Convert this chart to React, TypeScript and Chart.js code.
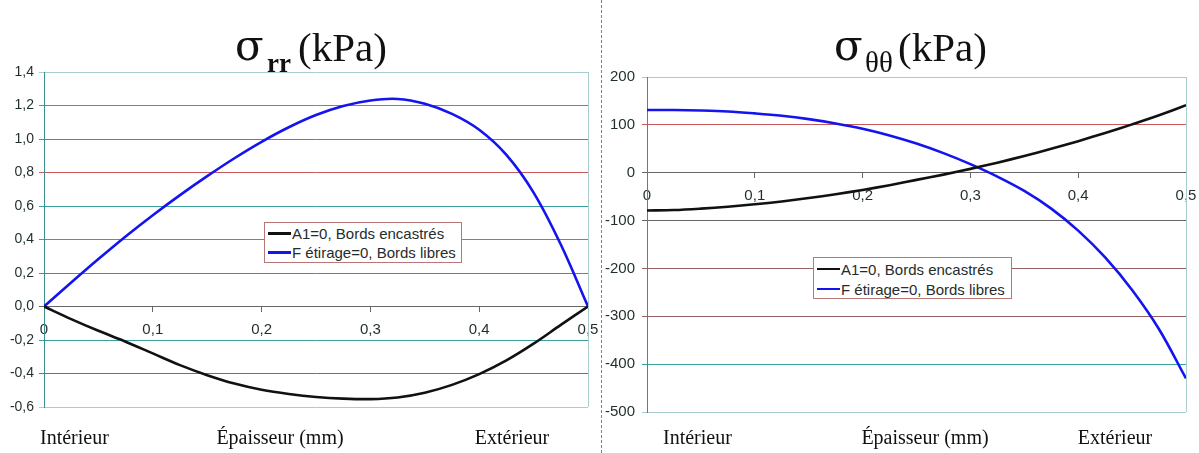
import React, { useEffect, useRef } from 'react';
import { Chart, registerables } from 'chart.js';

Chart.register(...registerables);

// ---------- data ----------
const thickness = [0, 0.025, 0.05, 0.075, 0.1, 0.125, 0.15, 0.175, 0.2, 0.225, 0.25, 0.275, 0.3, 0.325, 0.35, 0.375, 0.4, 0.425, 0.45, 0.475, 0.5];

const rrEncastres = [0, -0.075, -0.145, -0.21, -0.28, -0.35, -0.41, -0.46, -0.497, -0.522, -0.54, -0.55, -0.553, -0.543, -0.515, -0.468, -0.404, -0.322, -0.222, -0.11, 0];
const rrLibres = [0, 0.143, 0.283, 0.418, 0.545, 0.665, 0.778, 0.885, 0.983, 1.07, 1.143, 1.197, 1.23, 1.239, 1.21, 1.15, 1.055, 0.905, 0.68, 0.37, 0];

const ttEncastres = [-79, -78, -75, -71, -66, -60, -53, -45, -36, -26, -15, -4, 8, 21, 35, 50, 66, 83, 101, 120, 141];
const ttLibres = [131, 131, 130, 128, 124, 119, 112, 103, 92, 78, 61, 41, 18, -8, -38, -75, -121, -177, -245, -327, -430];

const seriesLabels = ['A1=0, Bords encastrés', 'F étirage=0, Bords libres'];

const rrTicks = [1.4, 1.2, 1.0, 0.8, 0.6, 0.4, 0.2, 0, -0.2, -0.4, -0.6];
const ttTicks = [200, 100, 0, -100, -200, -300, -400, -500];

const titles = { rr: ['σ', 'rr', '(kPa)'], tt: ['σ', 'θθ', '(kPa)'] };
const bottomLabels = ['Intérieur', 'Épaisseur (mm)', 'Extérieur'];

// ---------- styles ----------
const SERIF = '"Liberation Serif", "Times New Roman", serif';
const DSERIF = '"DejaVu Serif", serif';
const SANS = '"Liberation Sans", Arial, sans-serif';
const seriesColors = ['#111111', '#1414ee'];
const TEAL = '#3aa0a0';
const RED = '#c45a5a';
const BROWN = '#946262';
const DARK = '#666666';
const LIGHT = '#a9cccc';
const AXIS_Y = '#3a9090';
const TEXT = '#1f2d2d';

// colours listed top (max) to bottom (min)
const rrGridColors = [LIGHT, TEAL, RED, RED, TEAL, TEAL, RED, DARK, TEAL, BROWN, LIGHT];
const ttGridColors = [LIGHT, RED, DARK, DARK, BROWN, BROWN, TEAL, LIGHT];

const fmtComma = (v: number, digits: number) => v.toFixed(digits).replace('.', ',');

type PanelProps = {
  left: number;
  width: number;
  seriesA: number[];
  seriesB: number[];
  ticks: number[];
  gridColors: string[];
  yDigits: number;
  yAxisWidth: number;
  padding: { top: number; right: number; bottom: number };
  yFont: number;
  yPad: number;
};

function LinePanel(p: PanelProps) {
  const ref = useRef<HTMLCanvasElement>(null);
  useEffect(() => {
    const canvas = ref.current!;
    const yMax = p.ticks[0];
    const yMin = p.ticks[p.ticks.length - 1];
    const yStep = p.ticks[0] - p.ticks[1];
    const n = p.ticks.length;
    const frame = {
      id: 'frame',
      beforeDatasetsDraw(chart: any) {
        const { ctx, chartArea } = chart;
        ctx.save();
        ctx.strokeStyle = LIGHT;
        ctx.lineWidth = 1;
        const x = Math.round(chartArea.right) + 0.5;
        ctx.beginPath();
        ctx.moveTo(x, chartArea.top);
        ctx.lineTo(x, chartArea.bottom);
        ctx.stroke();
        ctx.restore();
      },
    };
    const chart = new Chart(canvas, {
      type: 'line',
      data: {
        datasets: [p.seriesA, p.seriesB].map((s, i) => ({
          label: seriesLabels[i],
          data: thickness.map((x, j) => ({ x, y: s[j] })),
          borderColor: seriesColors[i],
          backgroundColor: seriesColors[i],
          borderWidth: 2.6,
          pointRadius: 0,
          tension: 0.35,
          fill: false,
        })),
      },
      options: {
        responsive: false,
        animation: false,
        events: [],
        layout: { padding: { left: 0, top: p.padding.top, right: p.padding.right, bottom: p.padding.bottom } },
        plugins: { legend: { display: false }, tooltip: { enabled: false }, title: { display: false } },
        scales: {
          x: {
            type: 'linear',
            min: 0,
            max: 0.5,
            position: { y: 0 } as any,
            afterFit: (s: any) => {
              s.height = 0;
              s.paddingLeft = 0;
              s.paddingRight = 0;
            },
            ticks: {
              stepSize: 0.1,
              autoSkip: false,
              maxRotation: 0,
              padding: 9,
              color: TEXT,
              font: { family: SANS, size: 15 },
              callback: (v: any) => (Math.abs(Number(v)) < 1e-9 ? '0' : fmtComma(Number(v), 1)),
            },
            grid: { drawOnChartArea: false, drawTicks: true, tickLength: 5, color: DARK },
            border: { color: DARK, width: 1 },
          },
          y: {
            type: 'linear',
            min: yMin,
            max: yMax,
            afterFit: (s: any) => {
              s.width = p.yAxisWidth;
            },
            ticks: {
              stepSize: yStep,
              autoSkip: false,
              padding: p.yPad,
              color: TEXT,
              font: { family: SANS, size: p.yFont },
              callback: (v: any) => fmtComma(Number(v), p.yDigits),
            },
            grid: {
              color: (ctx: any) => p.gridColors[n - 1 - ctx.index] ?? LIGHT,
              tickLength: 5,
              lineWidth: 1,
            },
            border: { color: AXIS_Y, width: 1 },
          },
        },
      },
      plugins: [frame],
    });
    return () => chart.destroy();
  }, []);
  return (
    <canvas
      ref={ref}
      width={p.width}
      height={453}
      style={{ position: 'absolute', left: p.left, top: 0, width: p.width, height: 453 }}
    />
  );
}

function Txt(props: { x: number; y: number; size: number; family?: string; weight?: number; center?: boolean; children: React.ReactNode; color?: string }) {
  const family = props.family ?? SERIF;
  const a = family === SANS ? 0.905 : family === DSERIF ? 0.939 : 0.891;
  const d = family === SANS ? 0.212 : family === DSERIF ? 0.236 : 0.216;
  const top = props.y - (props.size * (a - d)) / 2;
  return (
    <div
      style={{
        position: 'absolute',
        left: props.x,
        top,
        fontSize: props.size,
        fontFamily: family,
        fontWeight: props.weight ?? 400,
        lineHeight: 0,
        whiteSpace: 'nowrap',
        color: props.color ?? '#111',
        transform: props.center ? 'translateX(-50%)' : undefined,
      }}
    >
      {props.children}
    </div>
  );
}

function Legend(props: { left: number; top: number; width: number; height: number; rowH: number }) {
  return (
    <div
      style={{
        position: 'absolute',
        left: props.left,
        top: props.top,
        width: props.width,
        height: props.height,
        boxSizing: 'border-box',
        border: '1px solid #b87878',
        background: '#fff',
        paddingTop: 1,
        paddingLeft: 3,
      }}
    >
      {seriesLabels.map((l, i) => (
        <div key={l} style={{ display: 'flex', alignItems: 'center', height: props.rowH }}>
          <div style={{ width: 23, height: 2.6, background: seriesColors[i], marginRight: 1 }} />
          <span style={{ fontFamily: SANS, fontSize: 15, color: TEXT, lineHeight: 1, whiteSpace: 'nowrap' }}>{l}</span>
        </div>
      ))}
    </div>
  );
}

export default function App() {
  return (
    <div style={{ position: 'absolute', left: 0, top: 0, width: 1199, height: 453, background: '#fff', overflow: 'hidden' }}>
      <LinePanel
        left={0}
        width={600}
        seriesA={rrEncastres}
        seriesB={rrLibres}
        ticks={rrTicks}
        gridColors={rrGridColors}
        yDigits={1}
        yAxisWidth={44}
        padding={{ top: 72, right: 12, bottom: 46 }}
        yFont={14}
        yPad={5}
      />
      <LinePanel
        left={601}
        width={598}
        seriesA={ttEncastres}
        seriesB={ttLibres}
        ticks={ttTicks}
        gridColors={ttGridColors}
        yDigits={0}
        yAxisWidth={46}
        padding={{ top: 77, right: 13, bottom: 41 }}
        yFont={15}
        yPad={7}
      />
      <div style={{ position: 'absolute', left: 601, top: 0, width: 0, height: 453, borderLeft: '1px dashed #3c9c9c' }} />

      <Legend left={264} top={222} width={198} height={41} rowH={19} />
      <Legend left={813} top={257} width={199} height={42} rowH={20} />

      <Txt x={235} y={61} size={42} family={DSERIF}>{titles.rr[0]}</Txt>
      <Txt x={267} y={72} size={27} weight={700}>{titles.rr[1]}</Txt>
      <Txt x={298} y={61} size={41}>{titles.rr[2]}</Txt>

      <Txt x={834} y={61} size={42} family={DSERIF}>{titles.tt[0]}</Txt>
      <Txt x={865} y={72} size={29}>{titles.tt[1]}</Txt>
      <Txt x={898} y={61} size={41}>{titles.tt[2]}</Txt>

      <Txt x={40} y={444} size={20}>{bottomLabels[0]}</Txt>
      <Txt x={280} y={444} size={20} center>{bottomLabels[1]}</Txt>
      <Txt x={512} y={444} size={20} center>{bottomLabels[2]}</Txt>

      <Txt x={663} y={444} size={20}>{bottomLabels[0]}</Txt>
      <Txt x={925} y={444} size={20} center>{bottomLabels[1]}</Txt>
      <Txt x={1115} y={444} size={20} center>{bottomLabels[2]}</Txt>
    </div>
  );
}
